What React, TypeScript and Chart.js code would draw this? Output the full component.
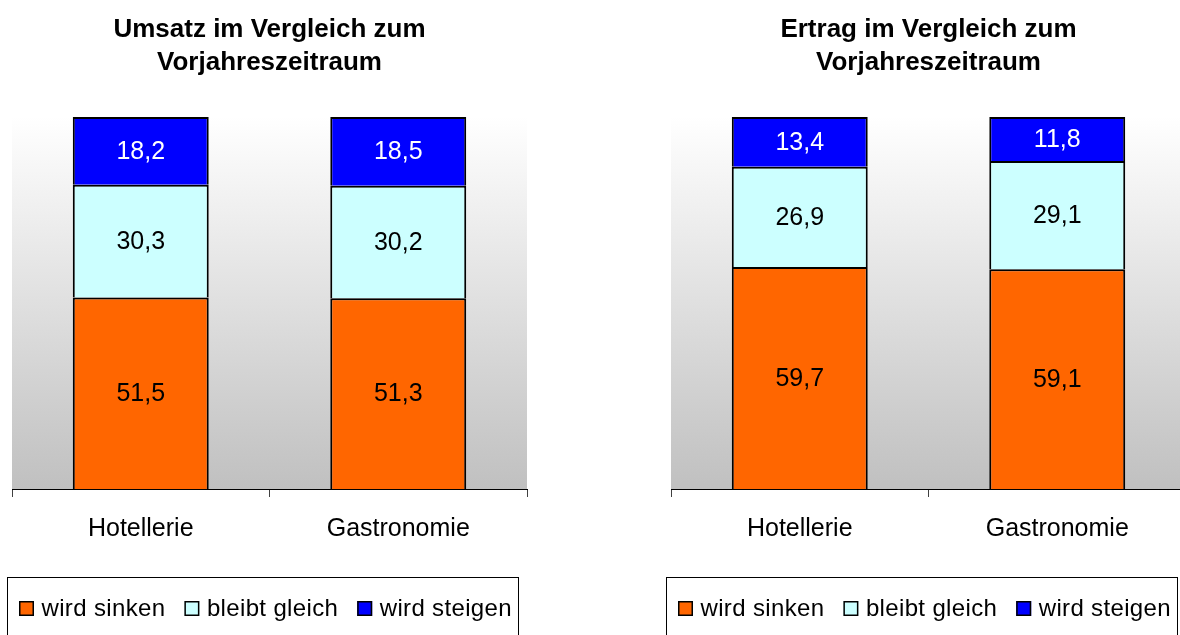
import React, { useEffect, useRef } from 'react';
import { Chart, registerables } from 'chart.js';

Chart.register(...registerables);

const categories = ['Hotellerie', 'Gastronomie'];
const seriesLabels = ['wird sinken', 'bleibt gleich', 'wird steigen'];
const seriesColors = ['#FF6600', '#CCFFFF', '#0000FF'];
const valueLabelColors = ['#000000', '#000000', '#FFFFFF'];

const umsatzTitle = ['Umsatz im Vergleich zum', 'Vorjahreszeitraum'];
const umsatzSinken = [51.5, 51.3];
const umsatzGleich = [30.3, 30.2];
const umsatzSteigen = [18.2, 18.5];

const ertragTitle = ['Ertrag im Vergleich zum', 'Vorjahreszeitraum'];
const ertragSinken = [59.7, 59.1];
const ertragGleich = [26.9, 29.1];
const ertragSteigen = [13.4, 11.8];

const yMin = 0;
const yMax = 100;

const FONT = '"Liberation Sans", Arial, Helvetica, sans-serif';

const fmt = (v: number) => v.toFixed(1).replace('.', ',');

const plotBackground = {
  id: 'plotBackground',
  beforeDraw(chart: any) {
    const { ctx, chartArea: a } = chart;
    const g = ctx.createLinearGradient(0, a.top, 0, a.bottom);
    g.addColorStop(0, '#FFFFFF');
    g.addColorStop(1, '#C0C0C0');
    ctx.save();
    ctx.fillStyle = g;
    ctx.fillRect(a.left, a.top, a.right - a.left, a.bottom - a.top);
    ctx.restore();
  },
};

const valueLabels = {
  id: 'valueLabels',
  afterDatasetsDraw(chart: any) {
    const { ctx } = chart;
    ctx.save();
    ctx.font = `25px ${FONT}`;
    ctx.textAlign = 'center';
    ctx.textBaseline = 'middle';
    chart.data.datasets.forEach((ds: any, di: number) => {
      const meta = chart.getDatasetMeta(di);
      meta.data.forEach((el: any, i: number) => {
        const p = el.getProps(['x', 'y', 'base'], true);
        ctx.fillStyle = valueLabelColors[di];
        ctx.fillText(fmt(ds.data[i]), p.x, (p.y + p.base) / 2 + 1);
      });
    });
    ctx.restore();
  },
};

const chartTitle = {
  id: 'chartTitle',
  afterDraw(chart: any, _args: any, opts: any) {
    const { ctx, chartArea: a } = chart;
    const lines: string[] = opts.lines || [];
    const cx = (a.left + a.right) / 2;
    ctx.save();
    ctx.font = `bold 26px ${FONT}`;
    ctx.fillStyle = '#000000';
    ctx.textAlign = 'center';
    ctx.textBaseline = 'alphabetic';
    lines.forEach((line, i) => {
      ctx.fillText(line, cx, 37 + i * 33);
    });
    ctx.restore();
  },
};

const boxLegend = {
  id: 'boxLegend',
  afterDraw(chart: any) {
    const { ctx } = chart;
    ctx.save();
    ctx.strokeStyle = '#000000';
    ctx.lineWidth = 1;
    ctx.strokeRect(7.5, 577.5, 511, 61);
    ctx.font = `24px ${FONT}`;
    (ctx as any).letterSpacing = '0.35px';
    ctx.textBaseline = 'alphabetic';
    ctx.textAlign = 'left';
    let x = 19;
    chart.data.datasets.forEach((ds: any) => {
      ctx.fillStyle = ds.backgroundColor;
      ctx.fillRect(x, 601, 15, 15);
      ctx.lineWidth = 1.5;
      ctx.strokeStyle = '#000000';
      ctx.strokeRect(x + 0.75, 601.75, 13.5, 13.5);
      ctx.fillStyle = '#000000';
      const tx = x + 22.5;
      ctx.fillText(ds.label, tx, 616);
      x = tx + ctx.measureText(ds.label).width + 19;
    });
    ctx.restore();
  },
};

function StackedChart(props: { title: string[]; sinken: number[]; gleich: number[]; steigen: number[]; left: number }) {
  const ref = useRef<HTMLCanvasElement>(null);
  useEffect(() => {
    const values = [props.sinken, props.gleich, props.steigen];
    const chart = new Chart(ref.current as HTMLCanvasElement, {
      type: 'bar',
      data: {
        labels: categories,
        datasets: values.map((data, i) => ({
          label: seriesLabels[i],
          data,
          backgroundColor: seriesColors[i],
          borderColor: '#000000',
          borderWidth: 2,
          borderSkipped: 'start',
          barPercentage: 0.528,
          categoryPercentage: 1,
        })),
      },
      options: {
        responsive: false,
        animation: false,
        layout: { padding: { top: 117, bottom: 100, left: 12, right: 13 } },
        plugins: {
          legend: { display: false },
          title: { display: false },
          tooltip: { enabled: false },
          chartTitle: { lines: props.title },
        } as any,
        scales: {
          x: {
            stacked: true,
            offset: true,
            grid: {
              offset: true,
              drawOnChartArea: false,
              drawTicks: true,
              tickLength: 8,
              color: '#404040',
              lineWidth: 1,
            },
            border: { display: true, color: '#000000', width: 1 },
            ticks: {
              font: { family: FONT, size: 25 },
              color: '#000000',
              padding: 17,
              maxRotation: 0,
            },
            afterFit: (s: any) => {
              s.height = 56;
            },
          },
          y: { stacked: true, display: false, min: yMin, max: yMax },
        },
      },
      plugins: [plotBackground, valueLabels, chartTitle, boxLegend],
    });
    return () => chart.destroy();
  }, []);
  return (
    <canvas
      ref={ref}
      width={540}
      height={645}
      style={{ position: 'absolute', left: props.left, top: 0, width: 540, height: 645 }}
    />
  );
}

export default function App() {
  return (
    <div
      style={{
        position: 'fixed',
        left: 0,
        top: 0,
        width: 1180,
        height: 635,
        overflow: 'hidden',
        background: '#FFFFFF',
      }}
    >
      <StackedChart title={umsatzTitle} sinken={umsatzSinken} gleich={umsatzGleich} steigen={umsatzSteigen} left={0} />
      <StackedChart title={ertragTitle} sinken={ertragSinken} gleich={ertragGleich} steigen={ertragSteigen} left={659} />
    </div>
  );
}
